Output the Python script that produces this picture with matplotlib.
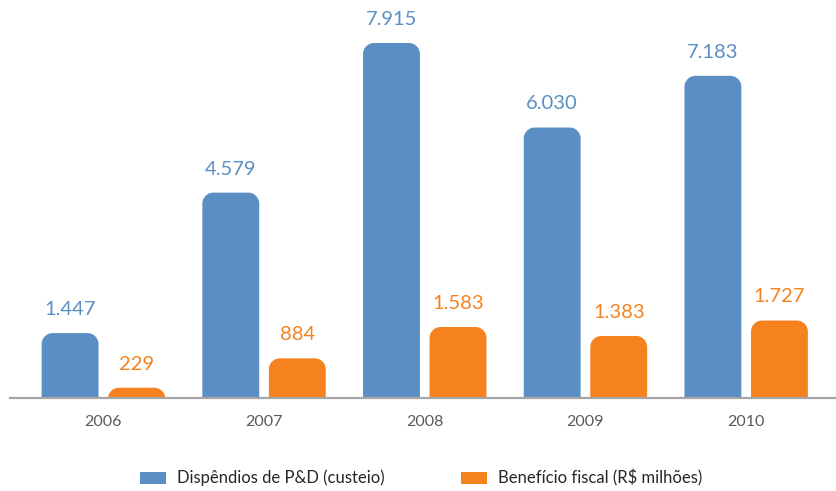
import matplotlib
matplotlib.use("Agg")
import matplotlib.pyplot as plt
from matplotlib.path import Path
from matplotlib.patches import PathPatch, Rectangle
from matplotlib.lines import Line2D
import numpy as np

years = ["2006", "2007", "2008", "2009", "2010"]
dispendios = [1447, 4579, 7915, 6030, 7183]
beneficio = [229, 884, 1583, 1383, 1727]
series_names = ["Dispêndios de P&D (custeio)", "Benefício fiscal (R$ milhões)"]

BLUE = "#5B8FC3"
ORANGE = "#F5821F"

plt.rcParams['font.family'] = ['Lato', 'DejaVu Sans']

W, H = 836, 491
fig = plt.figure(figsize=(W / 100, H / 100), dpi=100)
ax_left, ax_right = 23, 826.5
ax_base, ax_top = 398, 0
ax = fig.add_axes([ax_left / W, (H - ax_base) / H, (ax_right - ax_left) / W, (ax_base - ax_top) / H])

ymax = 398 / 355 * 7915
ax.set_xlim(-0.5, len(years) - 0.5)
ax.set_ylim(0, ymax)

x = np.arange(len(years))
bw = 0.354
off = 0.207
b1 = ax.bar(x - off, dispendios, bw, color=BLUE)
b2 = ax.bar(x + off, beneficio, bw, color=ORANGE)

sx = (ax_right - ax_left) / len(years)
sy = (ax_base - ax_top) / ymax
r_px = 11
k = 0.5523


def rounded(rect, color):
    x0 = rect.get_x()
    w = rect.get_width()
    h = rect.get_height()
    x1 = x0 + w
    rx = r_px / sx
    ry = min(r_px / sy, h)
    verts = [(x0, 0), (x0, h - ry),
             (x0, h - ry + k * ry), (x0 + rx - k * rx, h), (x0 + rx, h),
             (x1 - rx, h),
             (x1 - rx + k * rx, h), (x1, h - ry + k * ry), (x1, h - ry),
             (x1, 0), (x0, 0)]
    codes = [Path.MOVETO, Path.LINETO,
             Path.CURVE4, Path.CURVE4, Path.CURVE4,
             Path.LINETO,
             Path.CURVE4, Path.CURVE4, Path.CURVE4,
             Path.LINETO, Path.CLOSEPOLY]
    rect.set_visible(False)
    ax.add_patch(PathPatch(Path(verts, codes), facecolor=color, edgecolor='none', zorder=2))


def fmt(v):
    return f"{v:,}".replace(",", ".")


for bars, vals, c in ((b1, dispendios, BLUE), (b2, beneficio, ORANGE)):
    for rect, v in zip(bars, vals):
        rounded(rect, c)
        ax.annotate(fmt(v), (rect.get_x() + rect.get_width() / 2, v),
                    xytext=(0, 13), textcoords='offset points',
                    ha='center', va='baseline', fontsize=14.5, color=c)

for s in ['top', 'right', 'left', 'bottom']:
    ax.spines[s].set_visible(False)
fig.add_artist(Line2D([10 / W, 1.0], [(H - 397.5) / H] * 2, color='#A6A6A6', lw=1.6,
                      transform=fig.transFigure, zorder=3))
ax.set_yticks([])
ax.set_xticks(x)
ax.set_xticklabels(years, fontsize=11.5, color='#595959')
ax.tick_params(axis='x', length=0, pad=12)

# legend (manual, positions in figure pixels)
leg_items = [(140, BLUE, series_names[0]), (461, ORANGE, series_names[1])]
for px, col, name in leg_items:
    fig.add_artist(Rectangle((px / W, (H - 484) / H), 26 / W, 12 / H, facecolor=col,
                             edgecolor='none', transform=fig.transFigure))
    fig.text((px + 37) / W, (H - 478) / H, name, fontsize=12, color='#262626',
             ha='left', va='center')

fig.savefig("out.png", dpi=100)
